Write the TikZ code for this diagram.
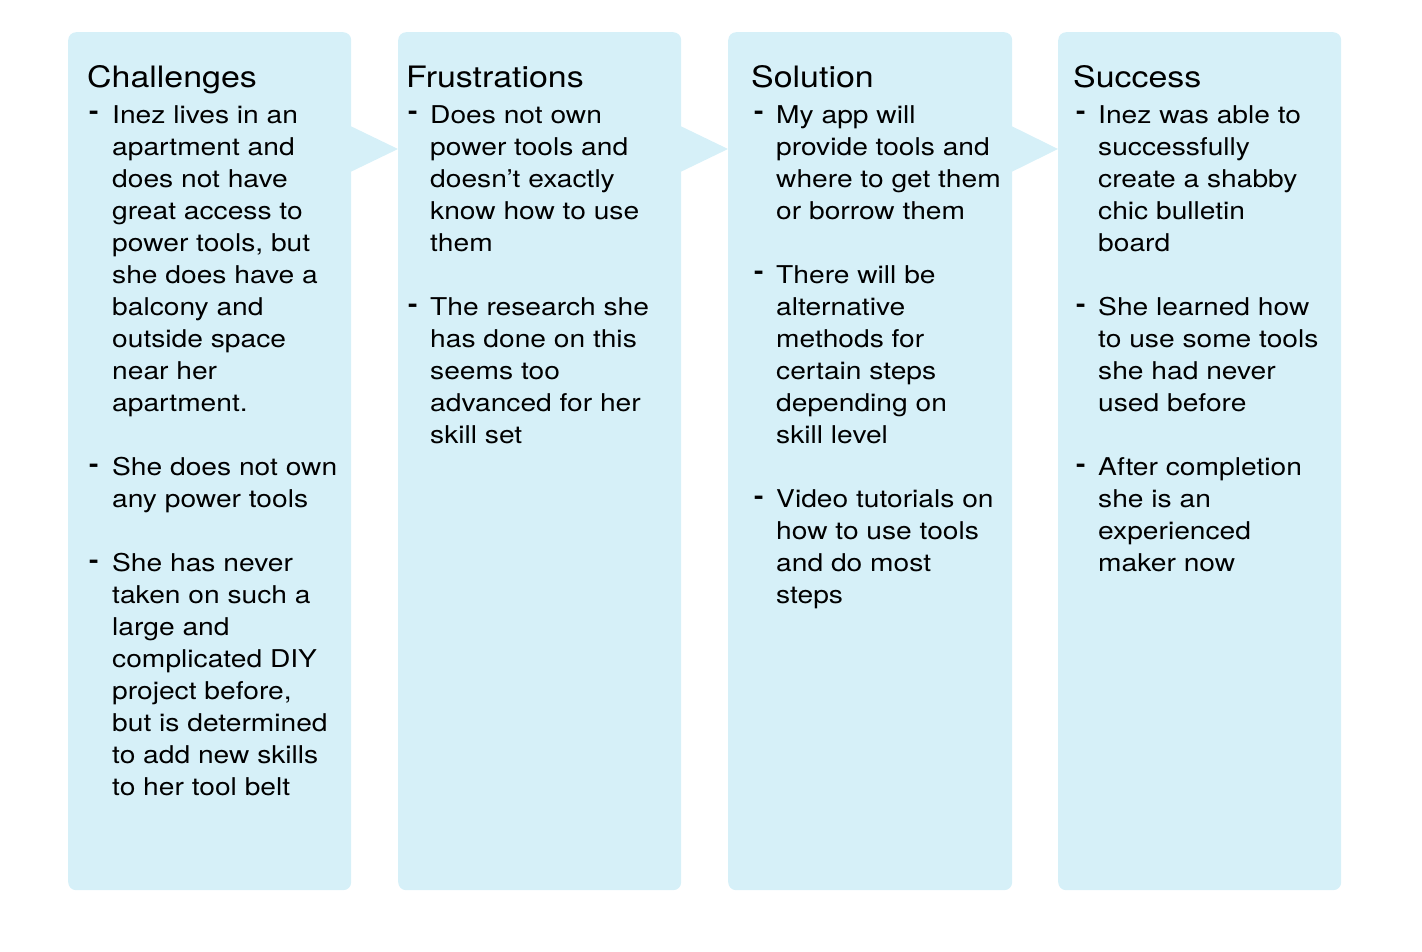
\documentclass[tikz,border=0pt]{standalone}
\usepackage{fontspec}
\setmainfont[FakeStretch=1.15]{TeX Gyre Heros}
\definecolor{panelblue}{RGB}{214,240,248}
\begin{document}
\begin{tikzpicture}[x=1pt, y=-1pt,
  panel/.style={fill=panelblue, draw=none, rounded corners=8pt, inner sep=0,
    minimum width=283pt, minimum height=858pt, anchor=north west},
  title/.style={anchor=base west, inner sep=0, font=\fontsize{29.5}{34}\selectfont},
  bulletmark/.style={anchor=base west, inner sep=0, font=\fontsize{24.5}{32}\selectfont\bfseries},
  item/.style={anchor=north west, inner sep=0, align=left, font=\fontsize{24.5}{32}\selectfont}]
\useasboundingbox (0,0) rectangle (1422,952);

\def\dy{32}
\def\st{23.4}
\def\dash{\raisebox{3pt}{-}}

% panels
\node[panel] (p1) at (68,32) {};
\node[panel] (p2) at (398,32) {};
\node[panel, minimum width=284pt] (p3) at (728,32) {};
\node[panel] (p4) at (1058,32) {};

% arrows between panels
\fill[panelblue] ([xshift=-1pt, yshift=-94pt]p1.north east) -- ([xshift=-1pt, yshift=-140pt]p1.north east) -- ([yshift=-117pt]p2.north west) -- cycle;
\fill[panelblue] ([xshift=-1pt, yshift=-94pt]p2.north east) -- ([xshift=-1pt, yshift=-140pt]p2.north east) -- ([yshift=-117pt]p3.north west) -- cycle;
\fill[panelblue] ([xshift=-1pt, yshift=-94pt]p3.north east) -- ([xshift=-1pt, yshift=-140pt]p3.north east) -- ([yshift=-117pt]p4.north west) -- cycle;

% Challenges
\node[title] (t1) at (87,88) {Challenges};
\node[bulletmark] at (89,123) {\dash};
\node[item] (c1) at (112,124-\st) {\strut Inez lives in an\\apartment and\\does not have\\great access to\\power tools, but\\she does have a\\balcony and\\outside space\\near her\\apartment.};
\node[bulletmark] at (89,123+11*\dy) {\dash};
\node[item] (c2) at (112,124+11*\dy-\st) {\strut She does not own\\any power tools};
\node[bulletmark] at (89,123+14*\dy) {\dash};
\node[item] (c3) at (112,124+14*\dy-\st) {\strut She has never\\taken on such a\\large and\\complicated DIY\\project before,\\but is determined\\to add new skills\\to her tool belt};

% Frustrations
\node[title] (t2) at (406,88) {Frustrations};
\node[bulletmark] at (408,123) {\dash};
\node[item] (f1) at (430,124-\st) {\strut Does not own\\power tools and\\doesn’t exactly\\know how to use\\them};
\node[bulletmark] at (408,123+6*\dy) {\dash};
\node[item] (f2) at (430,124+6*\dy-\st) {\strut The research she\\has done on this\\seems too\\advanced for her\\skill set};

% Solution
\node[title] (t3) at (751,88) {Solution};
\node[bulletmark] at (754,123) {\dash};
\node[item] (s1) at (776,124-\st) {\strut My app will\\provide tools and\\where to get them\\or borrow them};
\node[bulletmark] at (754,123+5*\dy) {\dash};
\node[item] (s2) at (776,124+5*\dy-\st) {\strut There will be\\alternative\\methods for\\certain steps\\depending on\\skill level};
\node[bulletmark] at (754,123+12*\dy) {\dash};
\node[item] (s3) at (776,124+12*\dy-\st) {\strut Video tutorials on\\how to use tools\\and do most\\steps};

% Success
\node[title] (t4) at (1073,88) {Success};
\node[bulletmark] at (1076,123) {\dash};
\node[item] (u1) at (1098,124-\st) {\strut Inez was able to\\successfully\\create a shabby\\chic bulletin\\board};
\node[bulletmark] at (1076,123+6*\dy) {\dash};
\node[item] (u2) at (1098,124+6*\dy-\st) {\strut She learned how\\to use some tools\\she had never\\used before};
\node[bulletmark] at (1076,123+11*\dy) {\dash};
\node[item] (u3) at (1098,124+11*\dy-\st) {\strut After completion\\she is an\\experienced\\maker now};
\end{tikzpicture}
\end{document}
